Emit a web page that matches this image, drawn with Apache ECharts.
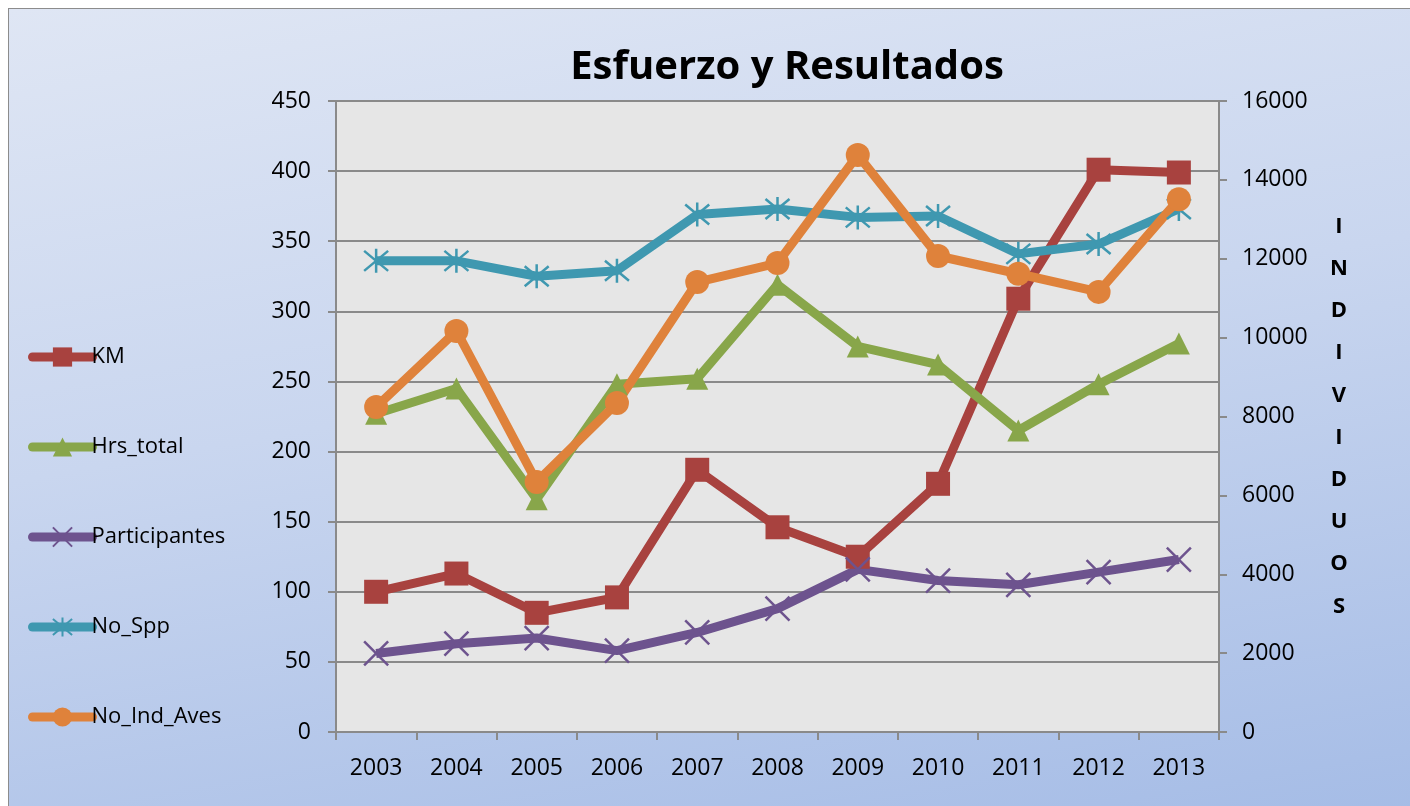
<!DOCTYPE html>
<html>
<head>
<meta charset="utf-8">
<script src="https://cdn.jsdelivr.net/npm/echarts@6/dist/echarts.min.js"></script>
<style>
  html, body { margin: 0; padding: 0; background: #fff; }
  #frame {
    position: absolute; left: 8px; top: 8px; width: 1410px; height: 806px;
    border: 1px solid #8c8c8c; box-sizing: border-box;
    background: linear-gradient(170deg, #dfe6f4 0%, #c9d6ef 45%, #a5bce6 100%);
  }
  #chart { position: absolute; left: -8px; top: -8px; width: 1410px; height: 806px; }
</style>
</head>
<body>
<div id="frame"><div id="chart"></div></div>
<script>
  // ── Data ─────────────────────────────────────────────────────────────────
  const years = ['2003', '2004', '2005', '2006', '2007', '2008', '2009', '2010', '2011', '2012', '2013'];
  const km = [100, 113, 85, 96, 187, 146, 125, 177, 309, 401, 399];
  const hrsTotal = [227, 245, 166, 248, 252, 319, 275, 262, 215, 248, 277];
  const participantes = [56, 63, 67, 58, 71, 88, 116, 108, 105, 114, 123];
  const noSpp = [336, 336, 325, 329, 369, 373, 367, 368, 341, 348, 373];
  const noIndAves = [8240, 10170, 6340, 8340, 11410, 11890, 14630, 12070, 11620, 11160, 13510];

  const FONT = '"Open Sans", sans-serif';
  const GRID_COLOR = '#8a8a8a';

  const xSym = 'path://M0,0L10,10M10,0L0,10';
  const starSym = 'path://M0,0L10,10M10,0L0,10M5,-1L5,11';

  function mkSeries(name, data, color, symbol, size, axis, stroke) {
    return {
      name, type: 'line', data, yAxisIndex: axis || 0,
      symbol, symbolSize: size, showAllSymbol: true,
      lineStyle: { color, width: 9 },
      itemStyle: stroke
        ? { color: 'transparent', borderColor: color, borderWidth: 2.5 }
        : { color, borderWidth: 0 },
      emphasis: { disabled: true },
      z: 3,
    };
  }

  const chart = echarts.init(document.getElementById('chart'));
  chart.setOption({
    backgroundColor: 'transparent',
    animation: false,
    textStyle: { fontFamily: FONT },
    title: {
      text: 'Esfuerzo y Resultados',
      left: 781, top: 42, textAlign: 'center',
      textStyle: { fontFamily: FONT, fontSize: 40, fontWeight: 'bold', color: '#000' },
    },
    legend: {
      orient: 'vertical', left: 22, top: 340,
      itemWidth: 60, itemHeight: 24, itemGap: 68,
      lineStyle: { width: 9, cap: 'round' },
      textStyle: { fontFamily: FONT, fontSize: 22, color: '#000', padding: [0, 0, 0, -6] },
      data: ['KM', 'Hrs_total', 'Participantes', 'No_Spp', 'No_Ind_Aves'],
    },
    grid: {
      left: 335, top: 100, right: 192, bottom: 75,
      show: true, backgroundColor: '#e6e6e6', borderColor: GRID_COLOR, borderWidth: 2,
    },
    xAxis: {
      type: 'category', data: years, boundaryGap: true,
      axisLine: { lineStyle: { color: GRID_COLOR, width: 2 } },
      axisTick: { show: true, alignWithLabel: false, length: 8, lineStyle: { color: GRID_COLOR, width: 2 } },
      axisLabel: { fontFamily: FONT, fontSize: 23, color: '#000', margin: 25 },
    },
    yAxis: [
      {
        type: 'value', min: 0, max: 450, interval: 50,
        axisLine: { show: true, lineStyle: { color: GRID_COLOR, width: 2 } },
        axisTick: { show: true, length: 8, lineStyle: { color: GRID_COLOR, width: 2 } },
        axisLabel: { fontFamily: FONT, fontSize: 23, color: '#000', margin: 25 },
        splitLine: { lineStyle: { color: GRID_COLOR, width: 2 } },
      },
      {
        type: 'value', min: 0, max: 16000, interval: 2000, position: 'right',
        name: 'I\nN\nD\nI\nV\nI\nD\nU\nO\nS',
        nameLocation: 'middle', nameRotate: 0, nameGap: 120,
        nameTextStyle: { fontFamily: FONT, fontSize: 22, fontWeight: 'bold', color: '#000', lineHeight: 42.2, align: 'center', verticalAlign: 'middle', padding: [8, 0, 0, 0] },
        axisLine: { show: true, lineStyle: { color: GRID_COLOR, width: 2 } },
        axisTick: { show: true, length: 8, lineStyle: { color: GRID_COLOR, width: 2 } },
        axisLabel: { fontFamily: FONT, fontSize: 23, color: '#000', margin: 23, formatter: v => String(v) },
        splitLine: { show: false },
      },
    ],
    series: [
      mkSeries('KM', km, '#a8423f', 'rect', 24),
      mkSeries('Hrs_total', hrsTotal, '#88a64a', 'triangle', 22),
      mkSeries('Participantes', participantes, '#6d538e', xSym, 24, 0, true),
      mkSeries('No_Spp', noSpp, '#3f98b0', starSym, 24, 0, true),
      mkSeries('No_Ind_Aves', noIndAves, '#df823b', 'circle', 24, 1),
    ],
  });
</script>
</body>
</html>
